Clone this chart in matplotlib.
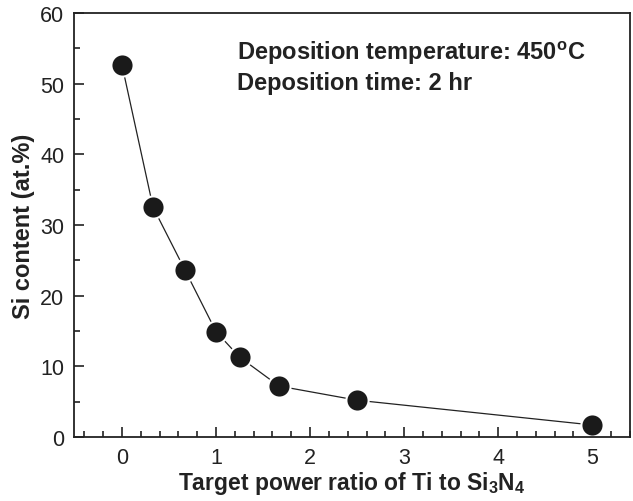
import matplotlib.pyplot as plt
from matplotlib.ticker import MultipleLocator

plt.rcParams['font.family'] = ['Liberation Sans', 'DejaVu Sans']
plt.rcParams['mathtext.fontset'] = 'custom'
plt.rcParams['mathtext.bf'] = 'Liberation Sans:bold'
plt.rcParams['mathtext.rm'] = 'Liberation Sans'

# Si content vs target power ratio
power_ratio = [0, 0.33, 0.67, 1.0, 1.25, 1.67, 2.5, 5.0]
si_content = [52.6, 32.5, 23.6, 14.9, 11.3, 7.2, 5.2, 1.7]

fig = plt.figure(figsize=(6.33, 5.02), dpi=100)
ax = fig.add_axes([0.117, 0.1275, 0.878, 0.845])

ax.plot(power_ratio, si_content, '-', color='#222222', lw=0.9, zorder=1)
ax.plot(power_ratio, si_content, 'o', ms=16, color='#1a1a1a',
        mec='white', mew=1.5, zorder=2)

ax.set_xlim(-0.51, 5.4)
ax.set_ylim(0, 60)
ax.xaxis.set_major_locator(MultipleLocator(1))
ax.xaxis.set_minor_locator(MultipleLocator(0.2))
ax.yaxis.set_major_locator(MultipleLocator(10))
ax.yaxis.set_minor_locator(MultipleLocator(5))
ax.tick_params(which='both', direction='in', top=False, right=False,
               labelsize=15.5, colors='#222222', width=1.2)
ax.tick_params(which='major', length=7, pad=7)
ax.tick_params(which='minor', length=4)
for s in ax.spines.values():
    s.set_linewidth(1.3)
    s.set_color('#222222')

ax.set_xlabel(r'Target power ratio of Ti to Si$_\mathbf{3}$N$_\mathbf{4}$', fontsize=16.5,
              fontweight='bold', color='#222222', labelpad=1)
ax.set_ylabel('Si content (at.%)', fontsize=17, fontweight='bold',
              color='#222222', labelpad=4)

ax.text(1.22, 53.5, r'Deposition temperature: 450$^\mathbf{o}$C', fontsize=17,
        fontweight='bold', color='#222222')
ax.text(1.22, 49.2, 'Deposition time: 2 hr', fontsize=17,
        fontweight='bold', color='#222222')

fig.savefig('out.png')
